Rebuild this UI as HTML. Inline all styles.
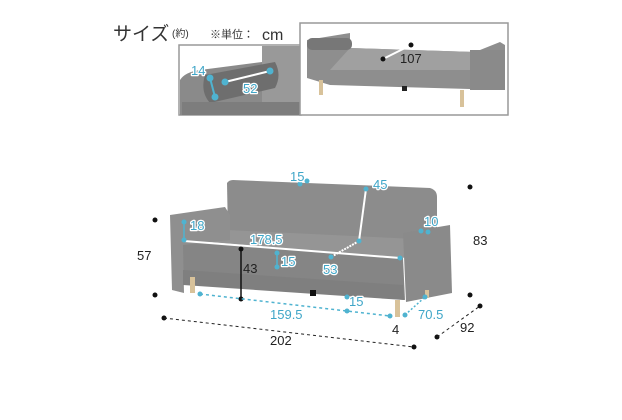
<!DOCTYPE html><html><head><meta charset="utf-8"><style>body{margin:0;background:#fff}svg{display:block}text{font-family:"Liberation Sans","Noto Sans CJK JP",sans-serif}</style></head><body>
<svg width="622" height="420" viewBox="0 0 622 420" xmlns="http://www.w3.org/2000/svg">
<text x="113" y="40" font-size="19" fill="#333">サイズ</text>
<text x="172" y="37" font-size="10" fill="#333">(約)</text>
<text x="210" y="38" font-size="11" fill="#333">※単位：</text>
<text x="262" y="40" font-size="16" fill="#333">cm</text>
<!-- left inset -->
<rect x="179" y="45" width="122" height="70" fill="#fff" stroke="#999" stroke-width="1.5"/>
<path d="M180 115 V80 Q185 72 200 70 L262 62 V46 H300 V115Z" fill="#8a8a8a"/>
<path d="M262 46 H300 V115 H262Z" fill="#999"/>
<path d="M205 75 L275 62 Q282 75 275 88 L210 103 Q200 92 205 75Z" fill="#6e6e6e"/>
<path d="M182 102 H300 V115 H182Z" fill="#7d7d7d"/>
<g stroke="#4fb3d0" stroke-width="2" fill="#4fb3d0"><line x1="210" y1="78" x2="215" y2="97"/><line x1="225" y1="82" x2="270" y2="71" stroke="#fff"/><circle cx="210" cy="78" r="2.5"/><circle cx="215" cy="97" r="2.5"/><circle cx="225" cy="82" r="2.5"/><circle cx="270" cy="71" r="2.5"/></g>
<g font-size="13" fill="#3fa6c8" stroke="#fff" stroke-width="2.5" paint-order="stroke" stroke-linejoin="round">
<text x="191" y="75">14</text><text x="243" y="93">52</text></g>
<!-- right inset -->
<rect x="300" y="23" width="208" height="92" fill="#fff" stroke="#999" stroke-width="1.5"/>
<path d="M307 40 L350 33 V48 L475 52 L500 42 L505 45 V90 L330 85 L307 78Z" fill="#8e8e8e"/>
<path d="M350 48 L475 52 L472 70 L330 70Z" fill="#a0a0a0"/>
<rect x="307" y="38" width="45" height="12" rx="5" fill="#777"/>
<rect x="470" y="50" width="35" height="40" fill="#8a8a8a"/>
<rect x="319" y="80" width="4" height="15" fill="#d8c29a"/><rect x="460" y="90" width="4" height="17" fill="#d8c29a"/>
<rect x="402" y="86" width="5" height="5" fill="#222"/>
<line x1="383" y1="59" x2="411" y2="45" stroke="#fff" stroke-width="2"/><circle cx="383" cy="59" r="2.5" fill="#111"/><circle cx="411" cy="45" r="2.5" fill="#111"/>
<text x="400" y="63" font-size="13" fill="#222">107</text>
<!-- main sofa -->
<path d="M227 183 Q229 180 233 180 L430 188 Q437 190 437 197 V240 L228 235Z" fill="#8c8c8c"/>
<path d="M180 240 L403 258 L405 300 L182 275Z" fill="#858585"/>
<path d="M183 240 L227 230 L437 240 L403 258Z" fill="#959595"/>
<path d="M170 215 L225 207 L230 215 L230 240 L183 245 L184 293 L172 290Z" fill="#8f8f8f"/>
<path d="M403 233 L450 225 L452 293 L406 302Z" fill="#8a8a8a"/>
<path d="M183 270 L403 285 L404 300 L183 285Z" fill="#7f7f7f"/>
<rect x="190" y="277" width="5" height="16" fill="#d8c29a"/>
<rect x="395" y="300" width="5" height="17" fill="#d8c29a"/>
<rect x="425" y="290" width="4" height="8" fill="#d8c29a"/>
<rect x="310" y="290" width="6" height="6" fill="#111"/>
<!-- black dims -->
<g fill="#111"><circle cx="155" cy="220" r="2.5"/><circle cx="155" cy="295" r="2.5"/><circle cx="470" cy="187" r="2.5"/><circle cx="470" cy="295" r="2.5"/><circle cx="164" cy="318" r="2.5"/><circle cx="414" cy="347" r="2.5"/><circle cx="437" cy="337" r="2.5"/><circle cx="480" cy="306" r="2.5"/><circle cx="241" cy="249" r="2.5"/><circle cx="241" cy="299" r="2.5"/></g>
<line x1="164" y1="318" x2="414" y2="347" stroke="#222" stroke-dasharray="3,3"/>
<line x1="437" y1="337" x2="480" y2="306" stroke="#222" stroke-dasharray="3,3"/>
<line x1="241" y1="249" x2="241" y2="299" stroke="#111" stroke-width="1.5"/>
<g font-size="13" fill="#222"><text x="137" y="260">57</text><text x="473" y="245">83</text><text x="270" y="345">202</text><text x="460" y="332">92</text><text x="243" y="273">43</text><text x="392" y="334">4</text></g>
<!-- blue dims -->
<g stroke="#fff" stroke-width="2"><line x1="184" y1="241" x2="400" y2="258"/><line x1="366" y1="189" x2="359" y2="241"/><line x1="359" y1="241" x2="331" y2="257" stroke-dasharray="2,1"/></g>
<g stroke="#4fb3d0" stroke-width="1.5"><line x1="184" y1="222" x2="184" y2="240"/><line x1="277" y1="253" x2="277" y2="267"/><line x1="200" y1="294" x2="390" y2="316" stroke-dasharray="3,3"/><line x1="405" y1="315" x2="425" y2="297" stroke-dasharray="2,2"/></g>
<g fill="#4fb3d0"><circle cx="300" cy="184" r="2.5"/><circle cx="307" cy="181" r="2.5"/><circle cx="366" cy="189" r="2.5"/><circle cx="359" cy="241" r="2.5"/><circle cx="184" cy="222" r="2.5"/><circle cx="184" cy="240" r="2.5"/><circle cx="400" cy="258" r="2.5"/><circle cx="421" cy="231" r="2.5"/><circle cx="428" cy="232" r="2.5"/><circle cx="277" cy="253" r="2.5"/><circle cx="277" cy="267" r="2.5"/><circle cx="331" cy="257" r="2.5"/><circle cx="200" cy="294" r="2.5"/><circle cx="347" cy="297" r="2.5"/><circle cx="347" cy="311" r="2.5"/><circle cx="390" cy="316" r="2.5"/><circle cx="405" cy="315" r="2.5"/><circle cx="425" cy="297" r="2.5"/></g>
<g font-size="13" fill="#3fa6c8" stroke="#fff" stroke-width="2.5" paint-order="stroke" stroke-linejoin="round"><text x="290" y="181">15</text><text x="373" y="189">45</text><text x="190" y="230">18</text><text x="424" y="226">10</text><text x="250" y="244">178.5</text><text x="281" y="266">15</text><text x="323" y="274">53</text><text x="270" y="319">159.5</text><text x="349" y="306">15</text><text x="418" y="319">70.5</text></g>
</svg></body></html>
